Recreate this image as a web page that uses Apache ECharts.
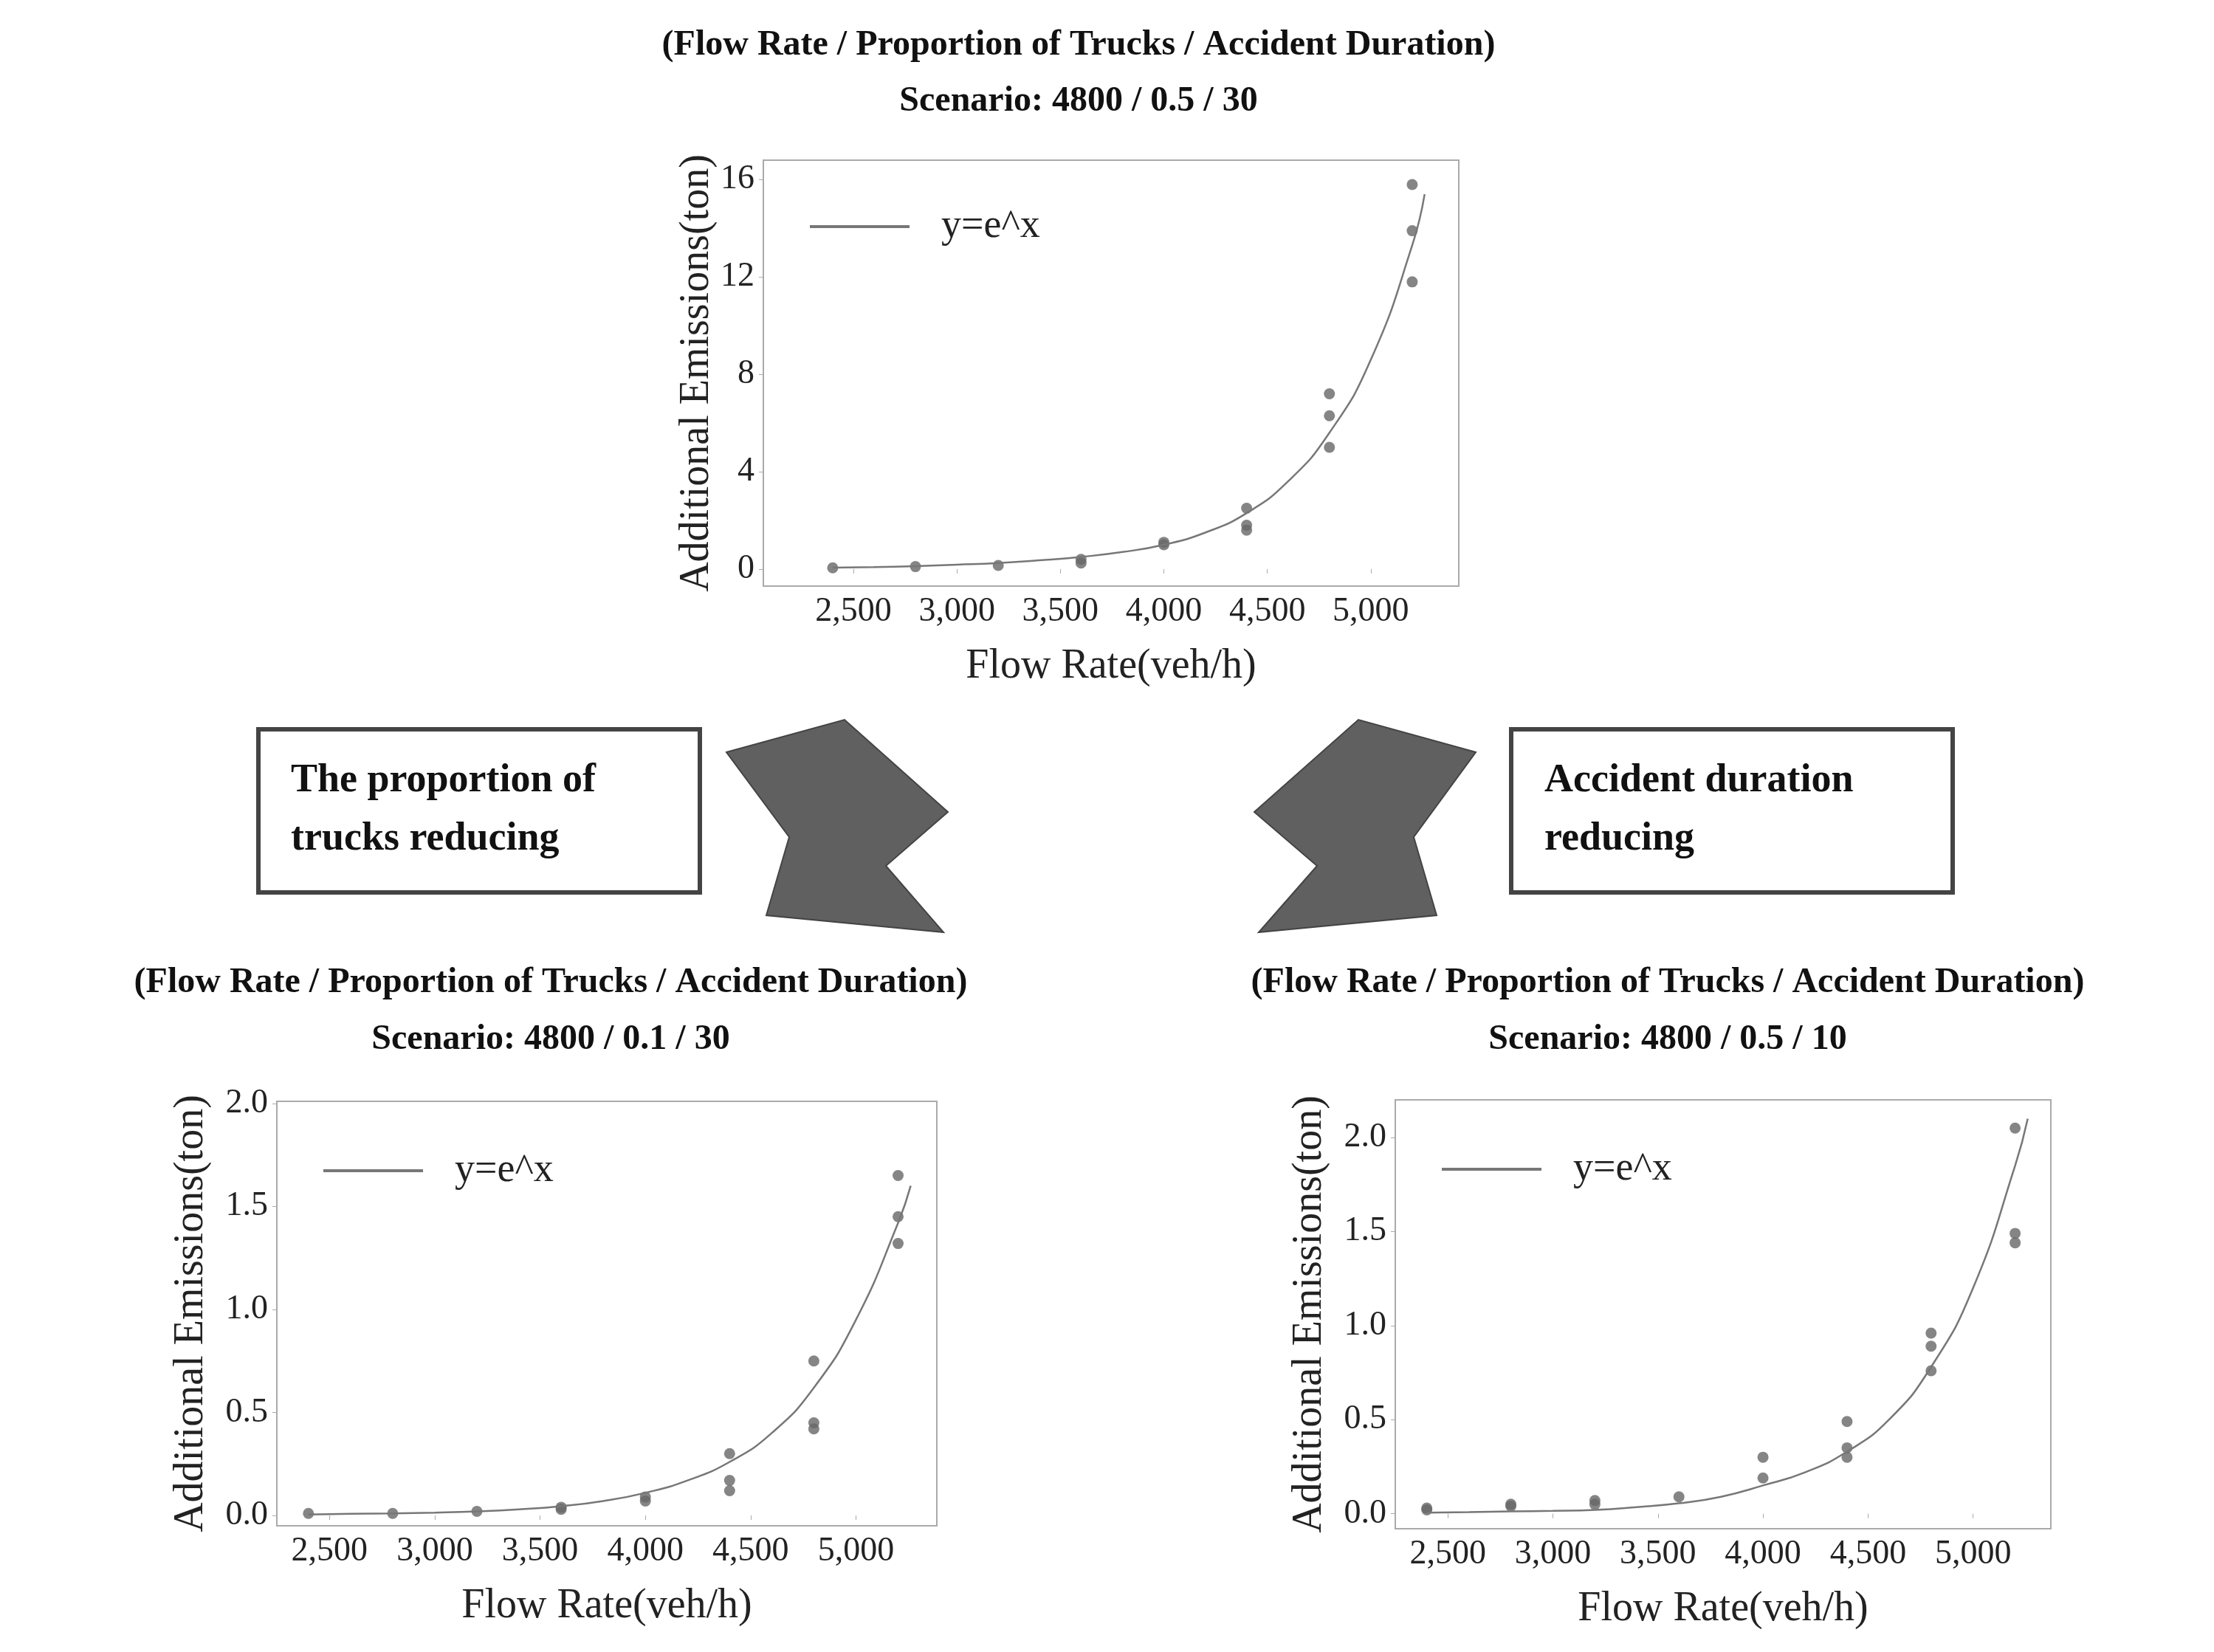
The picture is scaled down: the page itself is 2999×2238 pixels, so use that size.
<!DOCTYPE html>
<html><head><meta charset="utf-8">
<script src="https://cdn.jsdelivr.net/npm/echarts@6/dist/echarts.min.js"></script>
<style>html,body{margin:0;padding:0;background:#fff}#c{width:2999px;height:2238px}</style>
</head><body><div id="c"></div>
<script>
// observed flow rates (veh/h)
const flowPts = [2400, 2800, 3200, 3600, 4000, 4400, 4800, 5200];
// scatter values per flow rate
const ptsBase  = [[0.05], [0.1], [0.15], [0.25, 0.4], [1.0, 1.1], [2.5, 1.8, 1.6], [7.2, 6.3, 5.0], [15.8, 13.9, 11.8]];
const ptsTruck = [[0.01], [0.01], [0.02], [0.03, 0.04], [0.07, 0.09], [0.30, 0.17, 0.12], [0.75, 0.45, 0.42], [1.65, 1.45, 1.32]];
const ptsDur   = [[0.03, 0.02], [0.05, 0.04], [0.07, 0.05], [0.09], [0.30, 0.19], [0.49, 0.35, 0.30], [0.96, 0.89, 0.76], [2.05, 1.49, 1.44]];
// fitted curve samples
const curveX     = [2400, 2600, 2800, 3000, 3200, 3400, 3600, 3800, 4000, 4200, 4400, 4600, 4800, 5000, 5200, 5260];
const curveBase  = [0.06, 0.08, 0.12, 0.18, 0.25, 0.36, 0.5, 0.7, 1.0, 1.5, 2.3, 3.6, 5.6, 8.6, 13.3, 15.4];
const curveTruck = [0.005, 0.008, 0.01, 0.014, 0.02, 0.03, 0.045, 0.07, 0.11, 0.17, 0.26, 0.40, 0.62, 0.95, 1.42, 1.6];
const curveDur   = [0.005, 0.008, 0.012, 0.015, 0.02, 0.035, 0.055, 0.09, 0.15, 0.22, 0.33, 0.5, 0.78, 1.2, 1.85, 2.1];
const xTicks = [2500, 3000, 3500, 4000, 4500, 5000];
const yTicksTop = [0, 4, 8, 12, 16];
const yTicksLow = [0, 0.5, 1.0, 1.5, 2.0];
const titleLine1 = '(Flow Rate / Proportion of Trucks / Accident Duration)';
const scenarios = ['Scenario: 4800 / 0.5 / 30', 'Scenario: 4800 / 0.1 / 30', 'Scenario: 4800 / 0.5 / 10'];

const S = 2999 / 1560;
const px = v => Math.round(v * S);
const serif = '"Liberation Serif", "DejaVu Serif", serif';
const grey = '#666';

function pairs(vals) {
  const out = [];
  flowPts.forEach((f, i) => vals[i].forEach(v => out.push([f, v])));
  return out;
}

const grids = [
  { left: px(538), top: px(113), width: px(490), height: px(300) },
  { left: px(195), top: px(776), width: px(465), height: px(299) },
  { left: px(983), top: px(775), width: px(462), height: px(302) }
];
const xRanges = [[2065, 5425], [2250, 5384], [2250, 5370]];
const yRanges = [[-0.7, 16.8], [-0.05, 2.01], [-0.08, 2.2]];
const yTicks = [yTicksTop, yTicksLow, yTicksLow];

const chart = echarts.init(document.getElementById('c'));
const option = {
  backgroundColor: '#fff',
  animation: false,
  grid: grids.map(g => Object.assign({ show: true, borderColor: '#aaa', borderWidth: 2, backgroundColor: '#fff' }, g)),
  xAxis: grids.map((g, i) => ({
    type: 'value', gridIndex: i, min: xRanges[i][0], max: xRanges[i][1],
    name: 'Flow Rate(veh/h)', nameLocation: 'middle', nameGap: px(42),
    nameTextStyle: { fontFamily: serif, fontSize: px(29), color: '#222' },
    axisLine: { show: false }, splitLine: { show: false },
    axisTick: { show: true, length: 6, lineStyle: { color: '#aaa' }, customValues: xTicks },
    axisLabel: { fontFamily: serif, fontSize: px(24), color: '#222', margin: px(6), customValues: xTicks }
  })),
  yAxis: grids.map((g, i) => ({
    type: 'value', gridIndex: i, min: yRanges[i][0], max: yRanges[i][1],
    name: 'Additional Emissions(ton)', nameLocation: 'middle', nameGap: px(i === 0 ? 32 : 46),
    nameTextStyle: { fontFamily: serif, fontSize: px(29), color: '#222' },
    axisLine: { show: false }, splitLine: { show: false },
    axisTick: { show: true, length: 6, lineStyle: { color: '#aaa' }, customValues: yTicks[i] },
    axisLabel: { fontFamily: serif, fontSize: px(24), color: '#222', margin: px(6), customValues: yTicks[i],
      formatter: v => i === 0 ? String(v) : v.toFixed(1) }
  })),
  legend: grids.map((g, i) => ({
    data: ['y=e^x'], left: g.left + px(30), top: g.top + px(i === 0 ? 30 : 32),
    itemWidth: px(70), itemHeight: px(14), itemGap: 10,
    textStyle: { fontFamily: serif, fontSize: px(28), color: '#222', padding: [0, 0, 0, px(20)] },
    icon: 'path://M0,6 L70,6 L70,8 L0,8 Z',
    itemStyle: { color: '#777' }
  })),
  series: [],
  graphic: []
};
[[ptsBase, curveBase], [ptsTruck, curveTruck], [ptsDur, curveDur]].forEach(([pts, cv], i) => {
  option.series.push({
    name: 'y=e^x', type: 'line', xAxisIndex: i, yAxisIndex: i, showSymbol: false, smooth: true,
    lineStyle: { color: '#777', width: 2.5 }, itemStyle: { color: '#777' },
    data: curveX.map((x, k) => [x, cv[k]])
  });
  option.series.push({
    name: 'obs' + i, type: 'scatter', xAxisIndex: i, yAxisIndex: i, symbolSize: px(8),
    itemStyle: { color: grey }, data: pairs(pts)
  });
});

// titles
[[760, 0], [388, 1], [1175, 2]].forEach(([cx, k]) => {
  const y0 = k === 0 ? 32 : 693;
  [titleLine1, scenarios[k]].forEach((t, j) => option.graphic.push({
    type: 'text', x: px(cx), y: px(y0 + j * 40),
    style: { text: t, fontFamily: serif, fontWeight: 'bold', fontSize: px(25), fill: '#111', align: 'center', verticalAlign: 'middle' }
  }));
});

// boxes
[[182, 'The proportion of\ntrucks reducing'], [1065, 'Accident duration\nreducing']].forEach(([bx, t]) => {
  option.graphic.push({ type: 'rect', shape: { x: px(bx), y: px(514), width: px(311), height: px(115) },
    style: { fill: '#fff', stroke: '#444', lineWidth: px(3) } });
  option.graphic.push({ type: 'text', x: px(bx + 23), y: px(571),
    style: { text: t, fontFamily: serif, fontWeight: 'bold', fontSize: px(28), lineHeight: px(41), fill: '#111', verticalAlign: 'middle' } });
});

// arrows
const arrowL = [[512, 530], [595, 507], [668, 572], [624, 610], [665, 657], [540, 645], [556, 590]];
option.graphic.push({ type: 'polygon', shape: { points: arrowL.map(p => [px(p[0]), px(p[1])]) },
  style: { fill: '#606060', stroke: '#444', lineWidth: 2 } });
option.graphic.push({ type: 'polygon', shape: { points: arrowL.map(p => [px(1552 - p[0]), px(p[1])]) },
  style: { fill: '#606060', stroke: '#444', lineWidth: 2 } });

chart.setOption(option);
</script></body></html>
